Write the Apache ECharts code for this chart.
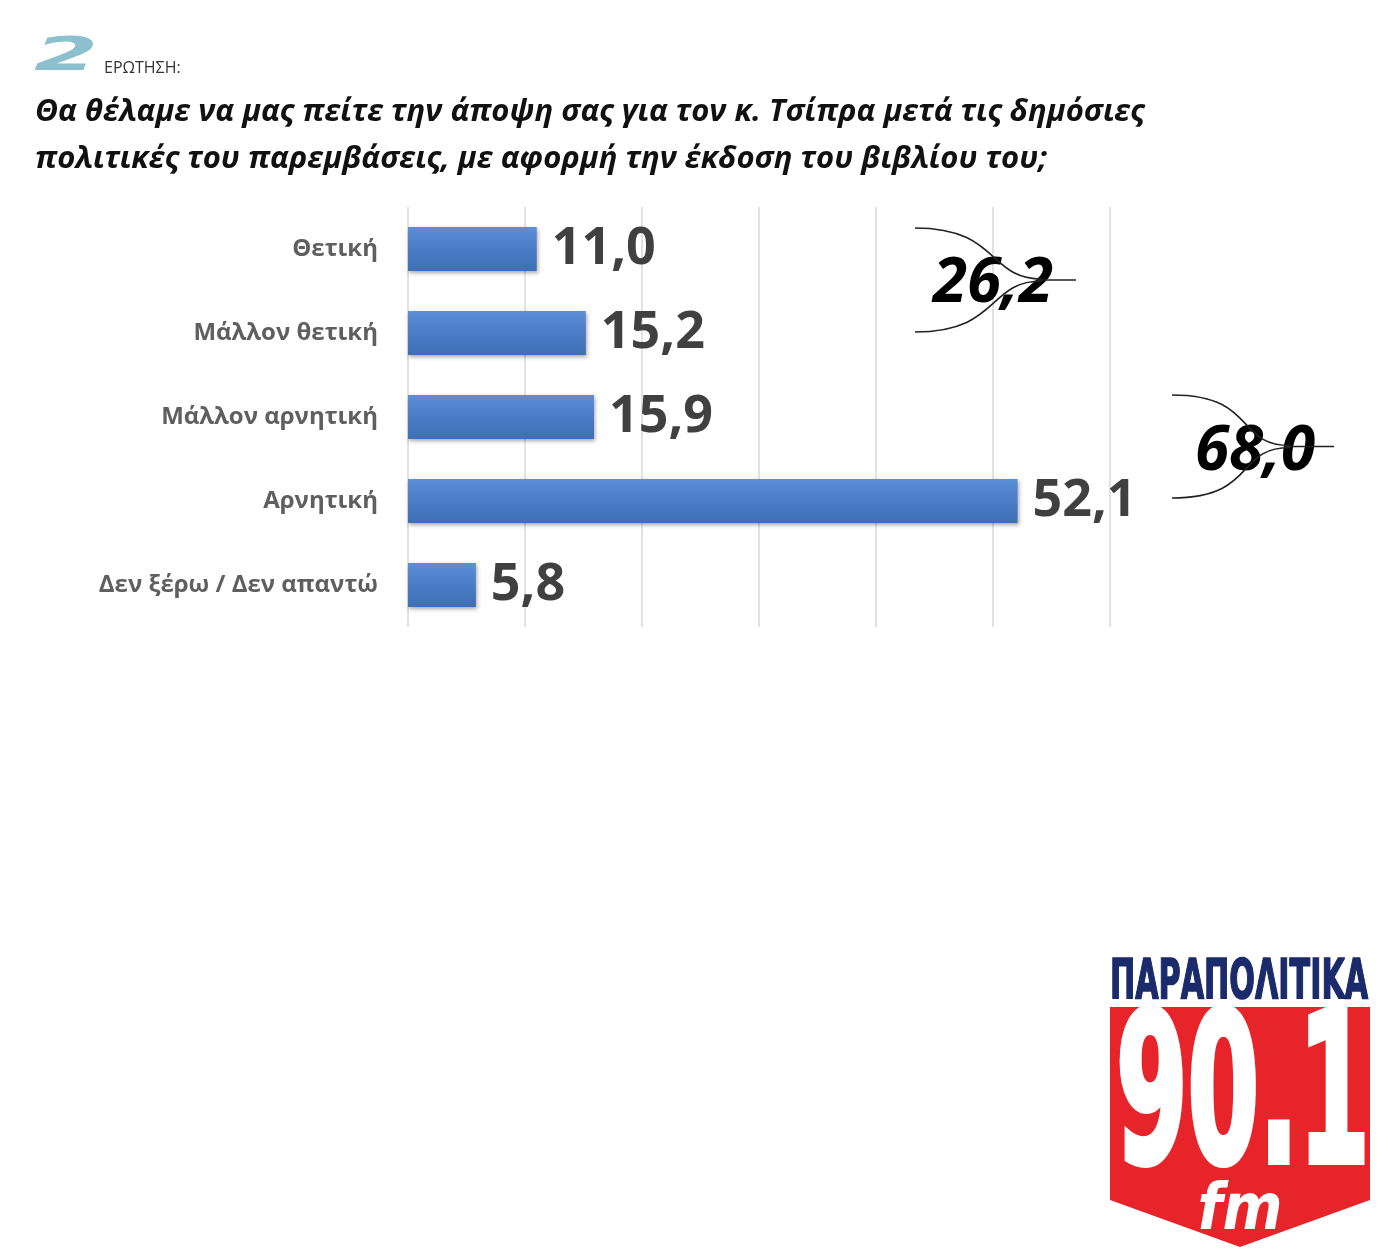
<!DOCTYPE html>
<html><head><meta charset="utf-8">
<script src="https://cdn.jsdelivr.net/npm/echarts@6/dist/echarts.min.js"></script>
<style>html,body{margin:0;padding:0;background:#fff}#c{width:1390px;height:1255px}</style>
</head><body><div id="c"></div>
<script>
const categories = ['Θετική', 'Μάλλον θετική', 'Μάλλον αρνητική', 'Αρνητική', 'Δεν ξέρω / Δεν απαντώ'];
const values = [11.0, 15.2, 15.9, 52.1, 5.8];
const groupTotals = [26.2, 68.0];
const questionNo = '2';
const questionLabel = 'ΕΡΩΤΗΣΗ:';
const titleLines = ['Θα θέλαμε να μας πείτε την άποψη σας για τον κ. Τσίπρα μετά τις δημόσιες', 'πολιτικές του παρεμβάσεις, με αφορμή την έκδοση του βιβλίου του;'];
const fmt = v => v.toFixed(1).replace('.', ',');

const chart = echarts.init(document.getElementById('c'));
const F = "'Open Sans', 'Noto Sans', sans-serif";
const braceColor = '#222';
function brace(x0, yTop, yBot, xm, xEnd) {
  const ym = (yTop + yBot) / 2;
  return [
    {type:'bezierCurve', shape:{x1:x0,y1:yTop,cpx1:x0+85,cpy1:yTop,cpx2:xm-55,cpy2:ym-1,x2:xm,y2:ym-1}, style:{stroke:braceColor,lineWidth:1.6,fill:null}, z:10},
    {type:'bezierCurve', shape:{x1:x0,y1:yBot,cpx1:x0+85,cpy1:yBot,cpx2:xm-55,cpy2:ym+1,x2:xm,y2:ym+1}, style:{stroke:braceColor,lineWidth:1.6,fill:null}, z:10},
    {type:'line', shape:{x1:xm-5,y1:ym,x2:xEnd,y2:ym}, style:{stroke:braceColor,lineWidth:1.6}, z:10}
  ];
}
chart.setOption({
  animation:false,
  grid:{left:408, right:280, top:207, height:420, containLabel:false},
  xAxis:{type:'value', min:0, max:60, interval:10,
    axisLabel:{show:false}, axisLine:{show:false}, axisTick:{show:false},
    splitLine:{show:true, lineStyle:{color:'#d9d9d9', width:1.5}}},
  yAxis:{type:'category', data:categories, inverse:true,
    axisLine:{show:false}, axisTick:{show:false},
    axisLabel:{margin:30, color:'#5f5f5f', fontFamily:F, fontWeight:'bold', fontSize:24}},
  series:[{type:'bar', data:values, barWidth:44,
    itemStyle:{color:new echarts.graphic.LinearGradient(0,0,0,1,[
      {offset:0,color:'#5b8fd6'},{offset:0.5,color:'#4a7dc6'},{offset:1,color:'#3e6fb4'}]),
      shadowColor:'rgba(0,0,0,0.35)', shadowBlur:4, shadowOffsetY:2, shadowOffsetX:1},
    label:{show:true, position:'right', distance:15, formatter:p=>fmt(p.value),
      color:'#404040', fontFamily:F, fontWeight:'bold', fontSize:52}}],
  graphic:[
    {type:'text', x:34, y:58, scaleX:2.0, style:{text:questionNo, font:"italic bold 46px 'DejaVu Sans'", fill:'#8cc0cf', verticalAlign:'middle'}},
    {type:'text', x:104, y:68, style:{text:questionLabel, font:"16px "+F, fill:'#333', verticalAlign:'middle'}},
    {type:'text', x:35, y:112, style:{text:titleLines[0], font:"italic bold 31px "+F, fill:'#111', verticalAlign:'middle'}},
    {type:'text', x:35, y:159, style:{text:titleLines[1], font:"italic bold 31px "+F, fill:'#111', verticalAlign:'middle'}},
    ...brace(915, 228, 332, 1042, 1076),
    {type:'text', x:993, y:284, style:{text:fmt(groupTotals[0]), font:"italic bold 62px "+F, fill:'#000', align:'center', verticalAlign:'middle'}, z:9},
    ...brace(1172, 395, 498, 1290, 1334),
    {type:'text', x:1255, y:452, style:{text:fmt(groupTotals[1]), font:"italic bold 62px "+F, fill:'#000', align:'center', verticalAlign:'middle'}, z:9},
    // logo
    {type:'text', x:1110, y:956, scaleX:0.61, style:{text:'ΠΑΡΑΠΟΛΙΤΙΚΑ', font:"bold 55px 'DejaVu Sans Condensed', 'DejaVu Sans'", fill:'#1b2a6b', stroke:'#1b2a6b', lineWidth:1.5}},
    {type:'polygon', shape:{points:[[1110,1007],[1370,1007],[1370,1200],[1240,1247],[1110,1200]]}, style:{fill:'#e62429'}},
    {type:'text', x:1116, y:1004, scaleX:0.55, style:{text:'90.1', font:"bold 208px 'DejaVu Sans Condensed', 'DejaVu Sans'", fill:'#fff', stroke:'#fff', lineWidth:6}},
    {type:'text', x:1240, y:1212, style:{text:'fm', font:"italic bold 64px 'DejaVu Sans Condensed', 'DejaVu Sans'", fill:'#fff', align:'center', verticalAlign:'middle'}}
  ]
});
</script></body></html>
